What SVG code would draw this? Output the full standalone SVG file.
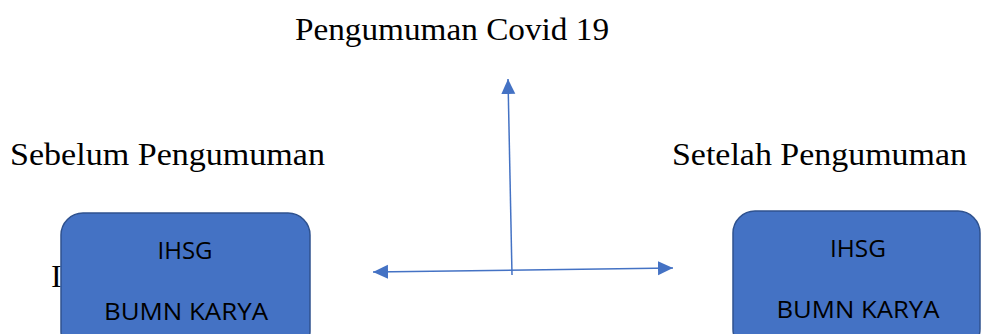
<svg xmlns="http://www.w3.org/2000/svg" width="981" height="334" viewBox="0 0 981 334">
<defs>
<marker id="ah" markerUnits="userSpaceOnUse" markerWidth="16" markerHeight="16" viewBox="0 0 16 16" refX="15" refY="8" orient="auto-start-reverse">
<path d="M0,1 L15,8 L0,15 Z" fill="#4472C4"/>
</marker>
</defs>
<style>
.lbl{font-family:"Liberation Serif","DejaVu Serif",serif;font-size:32px;fill:#000}
.box{fill:#4472C4;stroke:#2F528F;stroke-width:1.5}
.bt{font-family:"Open Sans","Liberation Sans",sans-serif;font-size:24px;fill:#000;text-anchor:middle}
.conn{stroke:#4472C4;stroke-width:1.5;fill:none}
</style>
<rect width="981" height="334" fill="#fff"/>
<g id="title"><text class="lbl" x="295" y="40" textLength="314" lengthAdjust="spacingAndGlyphs">Pengumuman Covid 19</text></g>
<g id="before-label"><text class="lbl" x="10" y="165" textLength="315" lengthAdjust="spacingAndGlyphs">Sebelum Pengumuman</text></g>
<g id="after-label"><text class="lbl" x="672" y="165" textLength="295" lengthAdjust="spacingAndGlyphs">Setelah Pengumuman</text></g>
<g id="hidden-text"><text class="lbl" x="51" y="287">I</text></g>
<g id="connectors">
<line class="conn" x1="512" y1="275" x2="508" y2="79" marker-end="url(#ah)"/>
<line class="conn" x1="373" y1="272" x2="673" y2="268" marker-start="url(#ah)" marker-end="url(#ah)"/>
</g>
<g id="box-before">
<rect class="box" x="61" y="213" width="249" height="140" rx="22"/>
<text class="bt" x="185" y="259" textLength="55" lengthAdjust="spacingAndGlyphs">IHSG</text>
<text class="bt" x="186" y="320" textLength="164" lengthAdjust="spacingAndGlyphs">BUMN KARYA</text>
</g>
<g id="box-after">
<rect class="box" x="733" y="211" width="247" height="140" rx="22"/>
<text class="bt" x="858" y="257" textLength="56" lengthAdjust="spacingAndGlyphs">IHSG</text>
<text class="bt" x="858" y="318" textLength="163" lengthAdjust="spacingAndGlyphs">BUMN KARYA</text>
</g>
</svg>
